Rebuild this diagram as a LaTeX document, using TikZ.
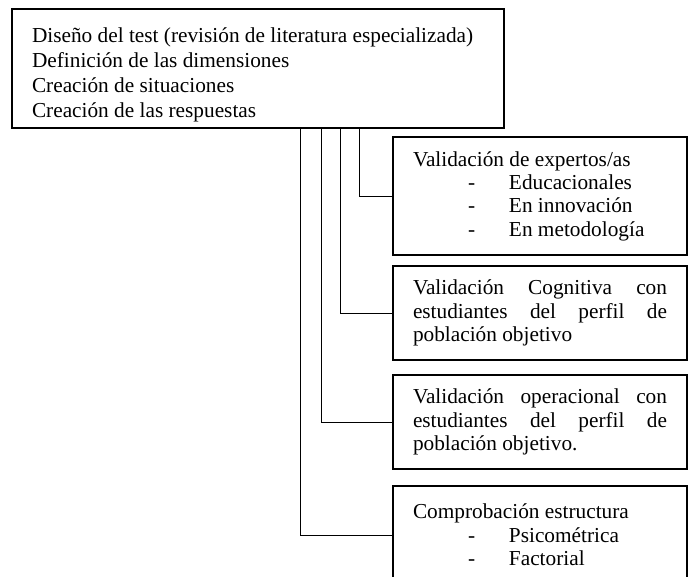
\documentclass[tikz,border=0pt]{standalone}
\usepackage{fontspec}
\setmainfont{Liberation Serif}
\begin{document}
\begin{tikzpicture}[x=1pt,y=-1pt,
  txt/.style={font=\fontsize{21.3}{23.4}\selectfont, align=flush left, anchor=north west, outer sep=0pt, inner ysep=0pt, inner xsep=20pt},
  bigbox/.style={txt, draw, line width=1.4pt},
  stepbox/.style={txt, draw, line width=1.8pt, text width=254pt, minimum width=294pt},
  link/.style={line width=0.9pt}]
\useasboundingbox (0,0) rectangle (693,577);
\newcommand{\itm}[1]{\hspace*{55pt}\makebox[41pt][l]{-}#1}
\newcommand{\jl}[1]{\makebox[254pt][s]{#1}}
\node[bigbox, text width=452pt, minimum width=492pt, minimum height=119pt,
      font=\fontsize{21.3}{24.9}\selectfont] (top) at (12,9)
  {\rule{0pt}{27pt}Diseño del test (revisión de literatura especializada)\\Definición de las dimensiones\\Creación de situaciones\\Creación de las respuestas};
\node[stepbox, minimum height=118pt] (b1) at (393,137)
  {Validación de expertos/as\\\itm{Educacionales}\\\itm{En innovación}\\\itm{En metodología}};
\node[stepbox, minimum height=94pt] (b2) at (393,266)
  {\jl{Validación Cognitiva con}\\\jl{estudiantes del perfil de}\\población objetivo};
\node[stepbox, minimum height=94pt] (b3) at (393,375)
  {\jl{Validación operacional con}\\\jl{estudiantes del perfil de}\\población objetivo.};
\node[txt, text width=254pt, minimum width=294pt, minimum height=98pt] (b4) at (393,486)
  {Comprobación estructura\\\itm{Psicométrica}\\\itm{Factorial}};
\draw[line width=1.8pt] (b4.south west) |- (b4.north east) -- (b4.south east);
\draw[link] (b1.west) -- ++(-34,0) coordinate (k1) -- (k1 |- top.south);
\draw[link] (b2.west) -- ++(-53,0) coordinate (k2) -- (k2 |- top.south);
\draw[link] (b3.west) -- ++(-72,0) coordinate (k3) -- (k3 |- top.south);
\draw[link] (b4.west) -- ++(-93,0) coordinate (k4) -- (k4 |- top.south);
\end{tikzpicture}
\end{document}
